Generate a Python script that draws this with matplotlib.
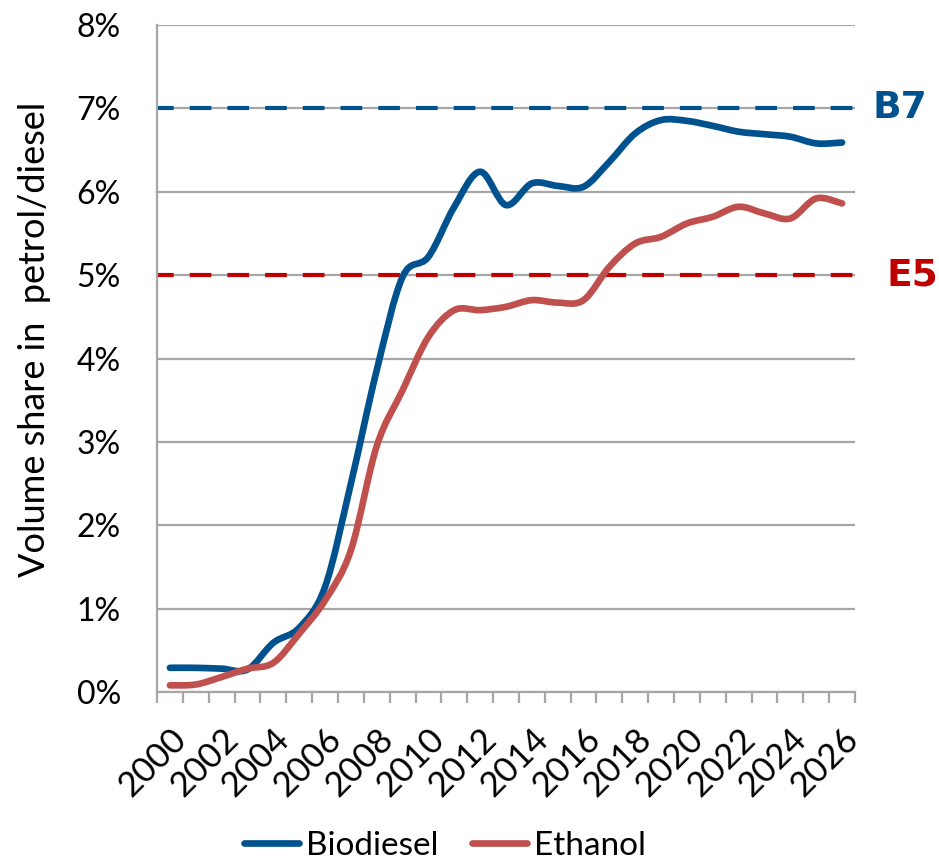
import matplotlib
matplotlib.use("Agg")
import matplotlib.pyplot as plt
import numpy as np
from matplotlib.path import Path
from matplotlib.patches import PathPatch
from matplotlib.lines import Line2D

years = list(range(2000, 2027))
biodiesel = [0.29, 0.29, 0.28, 0.27, 0.59, 0.77, 1.26, 2.5, 3.86, 4.98, 5.22, 5.82, 6.24,
             5.84, 6.10, 6.07, 6.06, 6.36, 6.70, 6.86, 6.85, 6.79, 6.72, 6.69, 6.66, 6.58, 6.59]
ethanol = [0.08, 0.09, 0.18, 0.28, 0.35, 0.70, 1.10, 1.70, 2.95, 3.62, 4.26, 4.58, 4.58,
           4.62, 4.70, 4.67, 4.70, 5.10, 5.38, 5.46, 5.62, 5.70, 5.82, 5.74, 5.68, 5.92, 5.86]
b7_level = 7.0
e5_level = 5.0
y_ticks = [0, 1, 2, 3, 4, 5, 6, 7, 8]

BLUE = "#00528F"
RED = "#C0504D"
DASH_BLUE = "#00528F"
DASH_RED = "#C00000"
GRID = "#A6A6A6"

plt.rcParams['font.family'] = ['Lato', 'DejaVu Sans']

fig = plt.figure(figsize=(9.39, 8.63), dpi=100)
ax = fig.add_axes([157/939, 1-692/863, (855-157)/939, (692-25)/863])


def smooth_path(xs, ys):
    pts = np.column_stack([xs, ys]).astype(float)
    n = len(pts)
    verts = [pts[0]]
    codes = [Path.MOVETO]
    for i in range(n - 1):
        p0 = pts[i - 1] if i > 0 else pts[i]
        p1 = pts[i]
        p2 = pts[i + 1]
        p3 = pts[i + 2] if i + 2 < n else pts[i + 1]
        c1 = p1 + (p2 - p0) / 6.0
        c2 = p2 - (p3 - p1) / 6.0
        verts += [c1, c2, p2]
        codes += [Path.CURVE4] * 3
    return Path(verts, codes)


xs = np.arange(len(years))

for v in y_ticks:
    ax.axhline(v, color=GRID, lw=1.6, zorder=0)

ax.axhline(b7_level, color=DASH_BLUE, lw=3.0, ls=(1.2, (5.2, 3.85)), zorder=2)
ax.axhline(e5_level, color=DASH_RED, lw=3.0, ls=(1.2, (5.2, 3.85)), zorder=2)

for series, col in [(biodiesel, BLUE), (ethanol, RED)]:
    p = PathPatch(smooth_path(xs, series), fill=False, edgecolor=col, lw=4.8,
                  capstyle='round', joinstyle='round', zorder=3)
    ax.add_patch(p)

ax.set_xlim(-0.5, len(years) - 0.5)
ax.set_ylim(0, 8)
ax.set_yticks(y_ticks)
ax.set_yticklabels([f"{v}%" for v in y_ticks], fontsize=23)
ax.tick_params(axis='y', length=0, pad=26)

ax.set_xticks(xs[::2])
ax.set_xticklabels([str(y) for y in years[::2]], rotation=45, ha='right', va='top',
                   rotation_mode='anchor', fontsize=25)
ax.set_xticks(np.arange(-0.5, len(years), 1.0), minor=True)
ax.tick_params(axis='x', which='major', length=0, pad=22)
ax.tick_params(axis='x', which='minor', length=8, width=1.6, color=GRID, direction='out')

for s in ['top', 'right']:
    ax.spines[s].set_visible(False)
for s in ['left', 'bottom']:
    ax.spines[s].set_color(GRID)
    ax.spines[s].set_linewidth(1.6)

fig.text(35/939, 1-339/863, "Volume share in  petrol/diesel", fontsize=26, rotation=90,
         ha='center', va='center')

ax.text(1.025, b7_level, "B7", transform=ax.get_yaxis_transform(), color=DASH_BLUE,
        fontsize=27, fontweight='bold', family='DejaVu Sans', va='center', ha='left')
ax.text(1.045, e5_level, "E5", transform=ax.get_yaxis_transform(), color=DASH_RED,
        fontsize=27, fontweight='bold', family='DejaVu Sans', va='center', ha='left')

handles = [Line2D([0], [0], color=BLUE, lw=4.8, solid_capstyle='round'),
           Line2D([0], [0], color=RED, lw=4.8, solid_capstyle='round')]
fig.legend(handles, ["Biodiesel", "Ethanol"], loc='center', bbox_to_anchor=(445/939, 1-846/863),
           ncol=2, frameon=False, fontsize=24, handlelength=1.65, handletextpad=0.2,
           columnspacing=1.0)

fig.savefig("out.png", dpi=100)
